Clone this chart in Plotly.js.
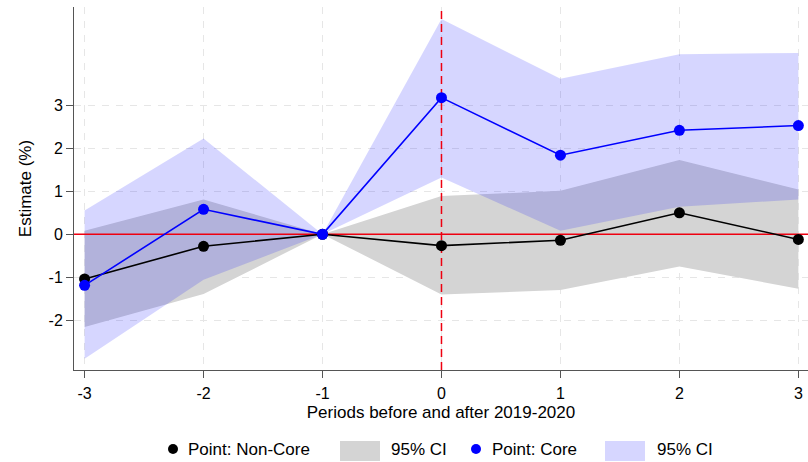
<!DOCTYPE html>
<html>
<head>
<meta charset="utf-8">
<script src="https://cdn.plot.ly/plotly-3.0.1.min.js"></script>
<style>
  html, body { margin: 0; padding: 0; background: #ffffff; }
  #chart { width: 808px; height: 462px; }
</style>
</head>
<body>
<div id="chart"></div>
<script>
// Event-study estimates, periods relative to 2019-2020
const periods = [-3, -2, -1, 0, 1, 2, 3];

// Non-core group: point estimate and 95% confidence bounds (%)
const nonCorePoint = [-1.04, -0.28, 0, -0.265, -0.14, 0.50, -0.12];
const nonCoreLower = [-2.16, -1.39, 0, -1.40, -1.30, -0.75, -1.27];
const nonCoreUpper = [0.08, 0.81, 0, 0.89, 1.01, 1.73, 1.04];

// Core group: point estimate and 95% confidence bounds (%)
const corePoint = [-1.19, 0.58, 0, 3.18, 1.84, 2.42, 2.53];
const coreLower = [-2.90, -1.06, 0, 1.32, 0.08, 0.64, 0.81];
const coreUpper = [0.55, 2.23, 0, 5.01, 3.62, 4.19, 4.22];

// Axis ticks
const xTicks = [-3, -2, -1, 0, 1, 2, 3];
const xTickText = ['-3', '-2', '-1', '0', '1', '2', '3'];
const yTicks = [-2, -1, 0, 1, 2, 3];
const yTickText = ['-2', '-1', '0', '1', '2', '3'];

// Reference lines: treatment period and zero effect
const eventPeriod = 0;
const zeroEffect = 0;

// Legend labels
const legendLabels = ['Point: Non-Core', '95% CI', 'Point: Core', '95% CI'];

const FONT = '"Liberation Sans", Arial, sans-serif';
const W = 808, H = 462;
const M = { l: 74, r: 0, t: 7, b: 92 };
const xRange = [-3.089, 3.081];
const yRange = [-3.16, 5.29];

const grayFill = '#d4d4d4';
const blueFill = 'rgba(0,0,255,0.16)';
const redLine = '#ee0010';

function band(lower, upper, color) {
  return {
    x: periods.concat(periods.slice().reverse()),
    y: upper.concat(lower.slice().reverse()),
    type: 'scatter', mode: 'lines', fill: 'toself',
    fillcolor: color, line: { width: 0, color: 'rgba(0,0,0,0)' },
    hoverinfo: 'skip', showlegend: false
  };
}

const traces = [
  band(nonCoreLower, nonCoreUpper, grayFill),
  band(coreLower, coreUpper, blueFill),
  { // zero-effect line
    x: xRange, y: [zeroEffect, zeroEffect], type: 'scatter', mode: 'lines',
    line: { color: redLine, width: 1.3 }, hoverinfo: 'skip', showlegend: false
  },
  { // treatment period
    x: [eventPeriod, eventPeriod], y: yRange, type: 'scatter', mode: 'lines',
    line: { color: redLine, width: 1.5, dash: '8px,5px' }, hoverinfo: 'skip', showlegend: false
  },
  {
    x: periods, y: nonCorePoint, type: 'scatter', mode: 'lines+markers',
    line: { color: '#000000', width: 1.6 }, marker: { color: '#000000', size: 11 },
    name: legendLabels[0], showlegend: false
  },
  {
    x: periods, y: corePoint, type: 'scatter', mode: 'lines+markers',
    line: { color: '#0000ff', width: 1.6 }, marker: { color: '#0000ff', size: 11 },
    name: legendLabels[2], showlegend: false
  }
];

// Pixel -> paper helpers for the legend row under the plot
const pw = W - M.l - M.r, ph = H - M.t - M.b;
const px = p => (p - M.l) / pw;
const py = p => (H - M.b - p) / ph;

const legendY = 449;
const shapes = [
  { type: 'circle', xref: 'paper', yref: 'paper', x0: px(168), x1: px(178), y0: py(454), y1: py(444),
    fillcolor: '#000000', line: { width: 0 } },
  { type: 'rect', xref: 'paper', yref: 'paper', x0: px(340), x1: px(380), y0: py(461), y1: py(441),
    fillcolor: grayFill, line: { width: 0 } },
  { type: 'circle', xref: 'paper', yref: 'paper', x0: px(471), x1: px(481), y0: py(454), y1: py(444),
    fillcolor: '#0000ff', line: { width: 0 } },
  { type: 'rect', xref: 'paper', yref: 'paper', x0: px(605), x1: px(645), y0: py(461), y1: py(441),
    fillcolor: 'rgb(214,214,255)', line: { width: 0 } }
];
const legendX = [186, 389, 490, 655];
const annotations = legendLabels.map((t, i) => ({
  text: t, xref: 'paper', yref: 'paper', x: px(legendX[i]), y: py(legendY),
  xanchor: 'left', yanchor: 'middle', showarrow: false,
  font: { family: FONT, size: 17, color: '#000000' }
}));

const axisCommon = {
  showline: true, linecolor: '#555555', linewidth: 1,
  ticks: 'outside', ticklen: 7, tickcolor: '#555555', tickwidth: 1,
  showgrid: true, gridcolor: '#e6e6e6', gridwidth: 1, griddash: '7px,7px',
  zeroline: false, tickfont: { family: FONT, size: 16, color: '#000000' }
};

const layout = {
  width: W, height: H,
  margin: M,
  paper_bgcolor: '#ffffff', plot_bgcolor: '#ffffff',
  showlegend: false,
  font: { family: FONT, size: 16, color: '#000000' },
  xaxis: Object.assign({}, axisCommon, {
    range: xRange, tickmode: 'array', tickvals: xTicks, ticktext: xTickText,
    ticklabelstandoff: 2,
    title: { text: 'Periods before and after 2019-2020', font: { family: FONT, size: 17 }, standoff: 4 },
    automargin: false
  }),
  yaxis: Object.assign({}, axisCommon, {
    range: yRange, tickmode: 'array', tickvals: yTicks, ticktext: yTickText,
    title: { text: 'Estimate (%)', font: { family: FONT, size: 17 }, standoff: 12 },
    automargin: false
  }),
  shapes: shapes,
  annotations: annotations
};

Plotly.newPlot('chart', traces, layout, { displayModeBar: false, staticPlot: true });
</script>
</body>
</html>
